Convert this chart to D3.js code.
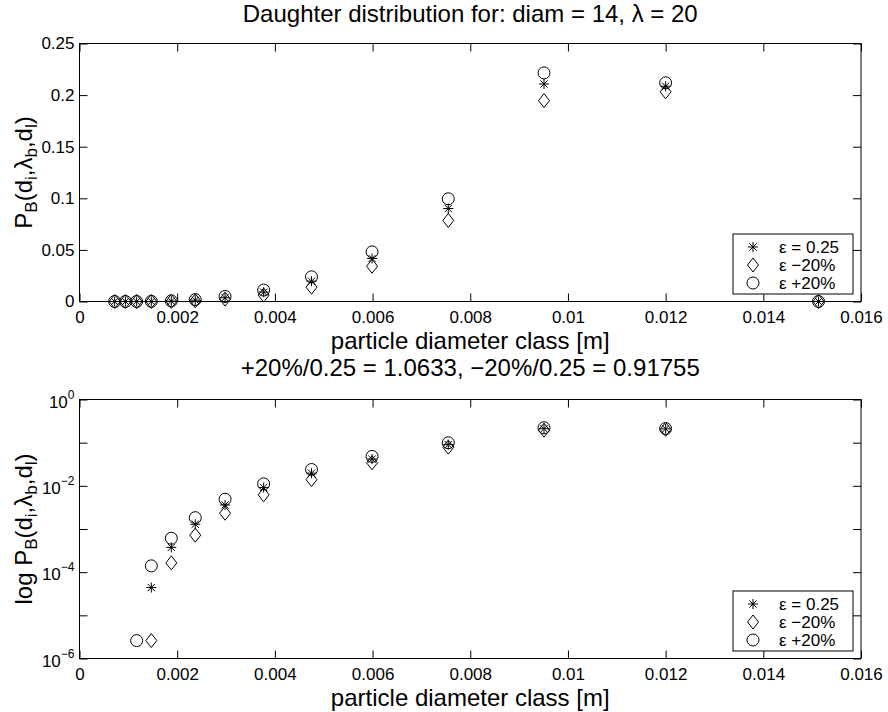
<!DOCTYPE html>
<html>
<head>
<meta charset="utf-8">
<script src="https://cdn.jsdelivr.net/npm/d3@7"></script>
<style>
  body { margin: 0; background: #fff; }
  svg text { font-family: "Liberation Sans", Arial, Helvetica, sans-serif; fill: #000; }
</style>
</head>
<body>
<svg id="chart" width="888" height="712"></svg>
<script>
// Particle diameter classes [m]
const diameters = [0.00072, 0.00094, 0.00117, 0.00147, 0.00188, 0.00237, 0.00298,
                   0.00377, 0.00475, 0.00599, 0.00755, 0.00951, 0.0120, 0.01513];
// Breakage probability for the reference epsilon and the +/-20% variants
const pRef     = [0, 0, 0, 4.4e-5, 3.75e-4, 1.29e-3, 3.6e-3, 9.1e-3, 0.0197, 0.0417, 0.0901, 0.2108, 0.2086, 0];
const pMinus20 = [0, 0, 0, 2.6e-6, 1.64e-4, 7.2e-4, 2.32e-3, 6.2e-3, 0.0139, 0.0342, 0.0785, 0.1947, 0.2032, 0];
const pPlus20  = [0, 0, 2.6e-6, 1.40e-4, 6.1e-4, 1.83e-3, 4.9e-3, 0.0111, 0.0239, 0.0481, 0.0995, 0.2215, 0.2119, 0];

const seriesNames = ["ε = 0.25", "ε −20%", "ε +20%"];
const seriesMarkers = ["star", "diamond", "circle"];

const xTicks = [0, 0.002, 0.004, 0.006, 0.008, 0.01, 0.012, 0.014, 0.016];
const xTickLabels = ["0", "0.002", "0.004", "0.006", "0.008", "0.01", "0.012", "0.014", "0.016"];
const yTicksLin = [0, 0.05, 0.1, 0.15, 0.2, 0.25];
const yTickLabelsLin = ["0", "0.05", "0.1", "0.15", "0.2", "0.25"];
const yTicksLog = [1e-6, 1e-5, 1e-4, 1e-3, 1e-2, 1e-1, 1];
const yTickExpLog = ["−6", "", "−4", "", "−2", "", "0"];

const titleTop = "Daughter distribution for: diam = 14, λ = 20";
const titleBottom = "+20%/0.25 = 1.0633, −20%/0.25 = 0.91755";
const xLabel = "particle diameter class [m]";

const series = [pRef, pMinus20, pPlus20];

// ---- layout ----
const X0 = 79.5, X1 = 861;
const TICK = 8;
const FS_TICK = 17, FS_LABEL = 24;

const svg = d3.select("#chart");
const x = d3.scaleLinear().domain([0, 0.016]).range([X0, X1]);

function marker(g, type, cx, cy) {
  const common = s => s.attr("fill", "none").attr("stroke", "#000").attr("stroke-width", 1);
  if (type === "circle") {
    common(g.append("circle").attr("cx", cx).attr("cy", cy).attr("r", 6));
  } else if (type === "diamond") {
    common(g.append("path").attr("d", `M${cx},${cy - 7}L${cx + 5.5},${cy}L${cx},${cy + 7}L${cx - 5.5},${cy}Z`));
  } else {
    common(g.append("path").attr("d",
      `M${cx - 5},${cy}H${cx + 5}M${cx},${cy - 5}V${cy + 5}` +
      `M${cx - 3.6},${cy - 3.6}L${cx + 3.6},${cy + 3.6}M${cx - 3.6},${cy + 3.6}L${cx + 3.6},${cy - 3.6}`));
  }
}

function styleAxis(sel) {
  sel.select(".domain").remove();
  sel.selectAll(".tick line").attr("stroke", "#000");
  sel.attr("font-size", FS_TICK).attr("font-family", null);
  sel.selectAll("text").attr("fill", "#000");
}

function yLabel(cx, cy, parts) {
  const t = svg.append("text")
    .attr("transform", `translate(${cx},${cy}) rotate(-90)`)
    .attr("text-anchor", "middle")
    .attr("font-size", FS_LABEL);
  let prevSub = false;
  parts.forEach(p => {
    const sub = !!p.sub;
    const ts = t.append("tspan").text(p.t);
    if (sub) ts.attr("font-size", 17);
    const dy = sub && !prevSub ? 5 : (!sub && prevSub ? -5 : 0);
    if (dy) ts.attr("dy", dy);
    prevSub = sub;
  });
}

function drawPanel(cfg) {
  const y = cfg.log
    ? d3.scaleLog().domain([1e-6, 1]).range([cfg.y1, cfg.y0])
    : d3.scaleLinear().domain([0, 0.25]).range([cfg.y1, cfg.y0]);
  const g = svg.append("g");

  // x axis (bottom with labels, top mirrored)
  g.append("g").attr("transform", `translate(0,${cfg.y1})`)
    .call(d3.axisBottom(x).tickValues(xTicks)
      .tickFormat(d => xTickLabels[xTicks.indexOf(d)])
      .tickSizeInner(-TICK).tickSizeOuter(0).tickPadding(9))
    .call(styleAxis);
  g.append("g").attr("transform", `translate(0,${cfg.y0})`)
    .call(d3.axisTop(x).tickValues(xTicks).tickFormat("")
      .tickSizeInner(-TICK).tickSizeOuter(0))
    .call(styleAxis);

  const yTicks = cfg.log ? yTicksLog : yTicksLin;
  g.append("g").attr("transform", `translate(${X0},0)`)
    .call(d3.axisLeft(y).tickValues(yTicks)
      .tickFormat(cfg.log ? "" : (d => yTickLabelsLin[yTicksLin.indexOf(d)]))
      .tickSizeInner(-TICK).tickSizeOuter(0).tickPadding(5))
    .call(styleAxis);
  g.append("g").attr("transform", `translate(${X1},0)`)
    .call(d3.axisRight(y).tickValues(yTicks).tickFormat("")
      .tickSizeInner(-TICK).tickSizeOuter(0))
    .call(styleAxis);

  if (cfg.log) {
    yTicksLog.forEach((v, i) => {
      if (!yTickExpLog[i]) return;
      const t = g.append("text")
        .attr("x", X0 - 5).attr("y", y(v) + 8)
        .attr("text-anchor", "end").attr("font-size", FS_TICK);
      t.append("tspan").text("10");
      t.append("tspan").attr("dy", -9).attr("font-size", 12).text(yTickExpLog[i]);
    });
  }

  // frame
  g.append("rect").attr("x", X0).attr("y", cfg.y0)
    .attr("width", X1 - X0).attr("height", cfg.y1 - cfg.y0)
    .attr("fill", "none").attr("stroke", "#000").attr("stroke-width", 1);

  // data markers
  const mg = g.append("g");
  series.forEach((vals, s) => {
    diameters.forEach((d, i) => {
      const v = vals[i];
      if (cfg.log && !(v > 0)) return;
      marker(mg, seriesMarkers[s], x(d), y(v));
    });
  });

  // title and x label
  svg.append("text").attr("x", (X0 + X1) / 2).attr("y", cfg.y0 - cfg.titleGap)
    .attr("text-anchor", "middle").attr("font-size", FS_LABEL).text(cfg.title);
  svg.append("text").attr("x", (X0 + X1) / 2).attr("y", cfg.y1 + 47.5)
    .attr("text-anchor", "middle").attr("font-size", FS_LABEL).text(xLabel);

  // y label
  const parts = [{ t: "P" }, { t: "B", sub: 1 }, { t: "(d" }, { t: "i", sub: 1 }, { t: ",λ" },
                 { t: "b", sub: 1 }, { t: ",d" }, { t: "l", sub: 1 }, { t: ")" }];
  yLabel(32, (cfg.y0 + cfg.y1) / 2, cfg.log ? [{ t: "log P" }].concat(parts.slice(1)) : parts);

  // legend
  const lx = 733, lw = 120, lh = 60, ly = cfg.y1 - 7.5 - lh;
  const lg = svg.append("g");
  lg.append("rect").attr("x", lx).attr("y", ly).attr("width", lw).attr("height", lh)
    .attr("fill", "#fff").attr("stroke", "#000").attr("stroke-width", 1);
  seriesNames.forEach((name, s) => {
    const ry = ly + 13 + s * 18;
    marker(lg, seriesMarkers[s], lx + 20, ry);
    lg.append("text").attr("x", lx + 46).attr("y", ry + 6)
      .attr("font-size", FS_TICK).text(name);
  });
}

drawPanel({ y0: 43.5, y1: 301.5, log: false, title: titleTop, titleGap: 22 });
drawPanel({ y0: 399.5, y1: 658.5, log: true, title: titleBottom, titleGap: 23.5 });
</script>
</body>
</html>
